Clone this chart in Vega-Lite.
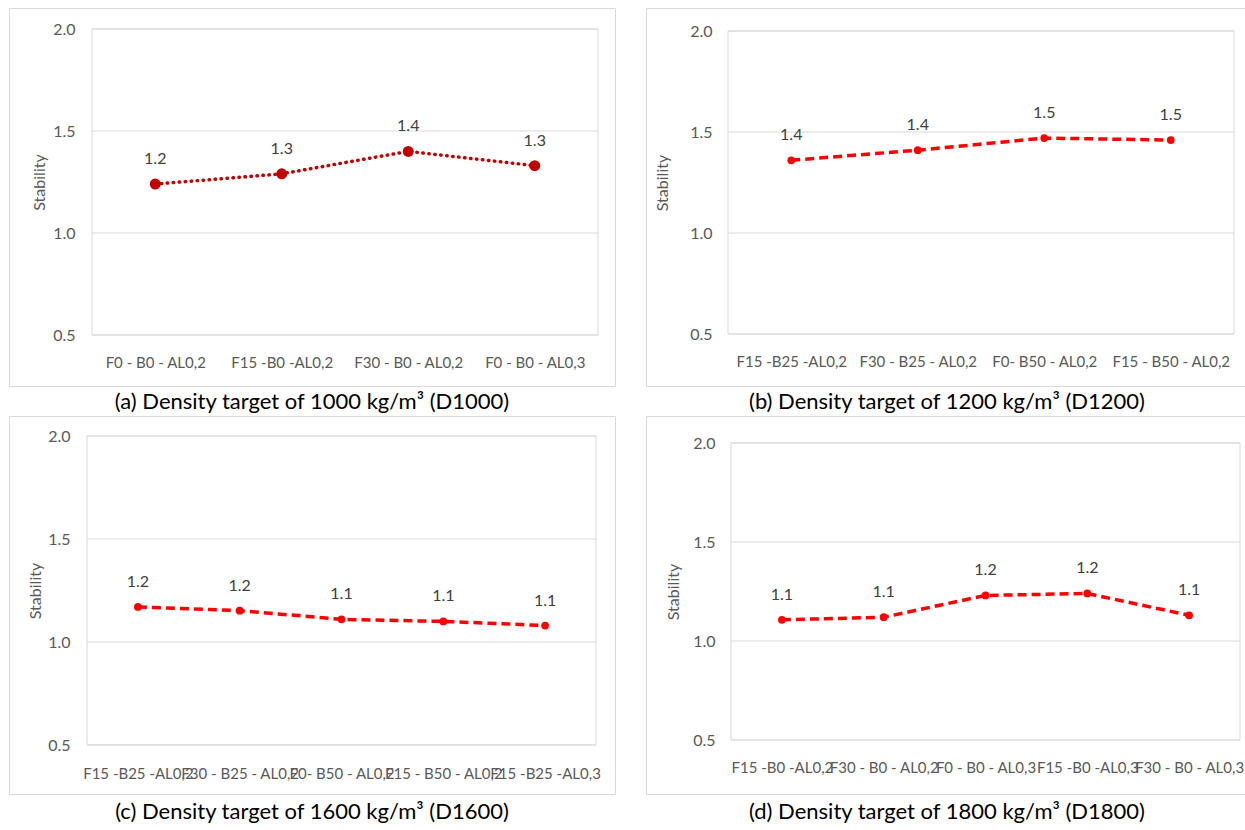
{
  "$schema": "https://vega.github.io/schema/vega-lite/v6.json",
  "background": "white",
  "padding": {"left": 8, "top": 7, "right": 0, "bottom": 0},
  "config": {
    "font": "Lato",
    "view": {"stroke": "#d9d9d9", "strokeWidth": 1},
    "title": {"font": "Lato"},
    "axis": {"labelFont": "Lato", "titleFont": "Lato"}
  },
  "datasets": {
    "grid": [{"g": 0.5}, {"g": 1.0}, {"g": 1.5}, {"g": 2.0}],
    "box": [{"lo": 0.5, "hi": 2.0}],
    "d1000": [
      {"Mix": "F0 - B0 - AL0,2", "Stability": 1.24},
      {"Mix": "F15 -B0 -AL0,2", "Stability": 1.29},
      {"Mix": "F30 - B0 - AL0,2", "Stability": 1.40},
      {"Mix": "F0 - B0 - AL0,3", "Stability": 1.33}
    ],
    "d1200": [
      {"Mix": "F15 -B25 -AL0,2", "Stability": 1.36},
      {"Mix": "F30 - B25 - AL0,2", "Stability": 1.41},
      {"Mix": "F0- B50 - AL0,2", "Stability": 1.47},
      {"Mix": "F15 - B50 - AL0,2", "Stability": 1.46}
    ],
    "d1600": [
      {"Mix": "F15 -B25 -AL0,2", "Stability": 1.17},
      {"Mix": "F30 - B25 - AL0,2", "Stability": 1.152},
      {"Mix": "F0- B50 - AL0,2", "Stability": 1.11},
      {"Mix": "F15 - B50 - AL0,2", "Stability": 1.10},
      {"Mix": "F15 -B25 -AL0,3", "Stability": 1.08}
    ],
    "d1800": [
      {"Mix": "F15 -B0 -AL0,2", "Stability": 1.107},
      {"Mix": "F30 - B0 - AL0,2", "Stability": 1.12},
      {"Mix": "F0 - B0 - AL0,3", "Stability": 1.23},
      {"Mix": "F15 -B0 -AL0,3", "Stability": 1.24},
      {"Mix": "F30 - B0 - AL0,3", "Stability": 1.13}
    ]
  },
  "spacing": {"row": 1, "column": 29},
  "columns": 2,
  "concat": [
    {
      "width": 606, "height": 378,
      "title": {"text": "(a) Density target of 1000 kg/m³ (D1000)", "orient": "bottom", "offset": 6, "fontSize": 22, "fontWeight": "normal", "color": "#000000", "anchor": "middle"},
      "resolve": {"scale": {"x": "independent"}},
      "layer": [
        {
          "data": {"name": "grid"},
          "mark": {"type": "rule", "color": "#d9d9d9", "strokeWidth": 1},
          "encoding": {
            "y": {"field": "g", "type": "quantitative", "scale": {"domain": [0.5, 2], "range": [327, 21]},
                  "axis": {"orient": "left", "offset": -83, "values": [0.5, 1, 1.5, 2], "format": ".1f", "domain": false, "ticks": false, "grid": false, "labelPadding": 17, "labelFontSize": 16, "labelColor": "#595959", "title": "Stability", "titleFontSize": 16, "titleFontWeight": "normal", "titleColor": "#595959", "titlePadding": 5}},
            "x": {"datum": 0, "type": "quantitative", "scale": {"domain": [0, 1], "range": [83, 589]}, "axis": null},
            "x2": {"datum": 1}
          }
        },
        {
          "data": {"name": "box"},
          "mark": {"type": "rect", "filled": false, "stroke": "#d9d9d9", "strokeWidth": 1},
          "encoding": {
            "y": {"field": "lo", "type": "quantitative", "scale": {"domain": [0.5, 2], "range": [327, 21]}},
            "y2": {"field": "hi"},
            "x": {"datum": 0, "type": "quantitative", "scale": {"domain": [0, 1], "range": [83, 589]}, "axis": null},
            "x2": {"datum": 1}
          }
        },
        {
          "data": {"name": "d1000"},
          "encoding": {
            "x": {"field": "Mix", "type": "nominal", "sort": null, "scale": {"type": "point", "range": [83, 589], "padding": 0.5},
                  "axis": {"orient": "bottom", "offset": -51, "domain": false, "ticks": false, "grid": false, "labelAngle": 0, "labelPadding": 20, "labelFontSize": 15, "labelColor": "#595959", "title": null}},
            "y": {"field": "Stability", "type": "quantitative", "scale": {"domain": [0.5, 2], "range": [327, 21]}}
          },
          "layer": [
            {"mark": {"type": "line", "color": "#C00000", "strokeWidth": 3.5, "strokeDash": [0.5, 5.5], "strokeCap": "round", "point": {"filled": true, "size": 120, "color": "#C00000"}}},
            {"mark": {"type": "text", "dy": -25, "fontSize": 16, "color": "#404040"},
             "encoding": {"text": {"field": "Stability", "type": "quantitative", "format": ".1f"}}}
          ]
        }
      ]
    },
    {
      "width": 602, "height": 378,
      "title": {"text": "(b) Density target of 1200 kg/m³ (D1200)", "orient": "bottom", "offset": 6, "fontSize": 22, "fontWeight": "normal", "color": "#000000", "anchor": "middle"},
      "resolve": {"scale": {"x": "independent"}},
      "layer": [
        {
          "data": {"name": "grid"},
          "mark": {"type": "rule", "color": "#d9d9d9", "strokeWidth": 1},
          "encoding": {
            "y": {"field": "g", "type": "quantitative", "scale": {"domain": [0.5, 2], "range": [326, 23]},
                  "axis": {"orient": "left", "offset": -82, "values": [0.5, 1, 1.5, 2], "format": ".1f", "domain": false, "ticks": false, "grid": false, "labelPadding": 16, "labelFontSize": 16, "labelColor": "#595959", "title": "Stability", "titleFontSize": 16, "titleFontWeight": "normal", "titleColor": "#595959", "titlePadding": 19}},
            "x": {"datum": 0, "type": "quantitative", "scale": {"domain": [0, 1], "range": [82, 588]}, "axis": null},
            "x2": {"datum": 1}
          }
        },
        {
          "data": {"name": "box"},
          "mark": {"type": "rect", "filled": false, "stroke": "#d9d9d9", "strokeWidth": 1},
          "encoding": {
            "y": {"field": "lo", "type": "quantitative", "scale": {"domain": [0.5, 2], "range": [326, 23]}},
            "y2": {"field": "hi"},
            "x": {"datum": 0, "type": "quantitative", "scale": {"domain": [0, 1], "range": [82, 588]}, "axis": null},
            "x2": {"datum": 1}
          }
        },
        {
          "data": {"name": "d1200"},
          "encoding": {
            "x": {"field": "Mix", "type": "nominal", "sort": null, "scale": {"type": "point", "range": [82, 588], "padding": 0.5},
                  "axis": {"orient": "bottom", "offset": -52, "domain": false, "ticks": false, "grid": false, "labelAngle": 0, "labelPadding": 20, "labelFontSize": 15, "labelColor": "#595959", "title": null}},
            "y": {"field": "Stability", "type": "quantitative", "scale": {"domain": [0.5, 2], "range": [326, 23]}}
          },
          "layer": [
            {"mark": {"type": "line", "color": "#FF0000", "strokeWidth": 3.5, "strokeDash": [9, 5], "point": {"filled": true, "size": 60, "color": "#FF0000"}}},
            {"mark": {"type": "text", "dy": -25, "fontSize": 16, "color": "#404040"},
             "encoding": {"text": {"field": "Stability", "type": "quantitative", "format": ".1f"}}}
          ]
        }
      ]
    },
    {
      "width": 606, "height": 378,
      "title": {"text": "(c) Density target of 1600 kg/m³ (D1600)", "orient": "bottom", "offset": 8, "fontSize": 22, "fontWeight": "normal", "color": "#000000", "anchor": "middle"},
      "resolve": {"scale": {"x": "independent"}},
      "layer": [
        {
          "data": {"name": "grid"},
          "mark": {"type": "rule", "color": "#d9d9d9", "strokeWidth": 1},
          "encoding": {
            "y": {"field": "g", "type": "quantitative", "scale": {"domain": [0.5, 2], "range": [329, 20]},
                  "axis": {"orient": "left", "offset": -78, "values": [0.5, 1, 1.5, 2], "format": ".1f", "domain": false, "ticks": false, "grid": false, "labelPadding": 17, "labelFontSize": 16, "labelColor": "#595959", "title": "Stability", "titleFontSize": 16, "titleFontWeight": "normal", "titleColor": "#595959", "titlePadding": 4}},
            "x": {"datum": 0, "type": "quantitative", "scale": {"domain": [0, 1], "range": [78, 587]}, "axis": null},
            "x2": {"datum": 1}
          }
        },
        {
          "data": {"name": "box"},
          "mark": {"type": "rect", "filled": false, "stroke": "#d9d9d9", "strokeWidth": 1},
          "encoding": {
            "y": {"field": "lo", "type": "quantitative", "scale": {"domain": [0.5, 2], "range": [329, 20]}},
            "y2": {"field": "hi"},
            "x": {"datum": 0, "type": "quantitative", "scale": {"domain": [0, 1], "range": [78, 587]}, "axis": null},
            "x2": {"datum": 1}
          }
        },
        {
          "data": {"name": "d1600"},
          "encoding": {
            "x": {"field": "Mix", "type": "nominal", "sort": null, "scale": {"type": "point", "range": [78, 587], "padding": 0.5},
                  "axis": {"orient": "bottom", "offset": -49, "domain": false, "ticks": false, "grid": false, "labelAngle": 0, "labelPadding": 21, "labelFontSize": 15, "labelColor": "#595959", "title": null}},
            "y": {"field": "Stability", "type": "quantitative", "scale": {"domain": [0.5, 2], "range": [329, 20]}}
          },
          "layer": [
            {"mark": {"type": "line", "color": "#FF0000", "strokeWidth": 3.5, "strokeDash": [9, 5], "point": {"filled": true, "size": 60, "color": "#FF0000"}}},
            {"mark": {"type": "text", "dy": -25, "fontSize": 16, "color": "#404040"},
             "encoding": {"text": {"field": "Stability", "type": "quantitative", "format": ".1f"}}}
          ]
        }
      ]
    },
    {
      "width": 602, "height": 378,
      "title": {"text": "(d) Density target of 1800 kg/m³ (D1800)", "orient": "bottom", "offset": 8, "fontSize": 22, "fontWeight": "normal", "color": "#000000", "anchor": "middle"},
      "resolve": {"scale": {"x": "independent"}},
      "layer": [
        {
          "data": {"name": "grid"},
          "mark": {"type": "rule", "color": "#d9d9d9", "strokeWidth": 1},
          "encoding": {
            "y": {"field": "g", "type": "quantitative", "scale": {"domain": [0.5, 2], "range": [324, 27]},
                  "axis": {"orient": "left", "offset": -85, "values": [0.5, 1, 1.5, 2], "format": ".1f", "domain": false, "ticks": false, "grid": false, "labelPadding": 16, "labelFontSize": 16, "labelColor": "#595959", "title": "Stability", "titleFontSize": 16, "titleFontWeight": "normal", "titleColor": "#595959", "titlePadding": 11}},
            "x": {"datum": 0, "type": "quantitative", "scale": {"domain": [0, 1], "range": [85, 594]}, "axis": null},
            "x2": {"datum": 1}
          }
        },
        {
          "data": {"name": "box"},
          "mark": {"type": "rect", "filled": false, "stroke": "#d9d9d9", "strokeWidth": 1},
          "encoding": {
            "y": {"field": "lo", "type": "quantitative", "scale": {"domain": [0.5, 2], "range": [324, 27]}},
            "y2": {"field": "hi"},
            "x": {"datum": 0, "type": "quantitative", "scale": {"domain": [0, 1], "range": [85, 594]}, "axis": null},
            "x2": {"datum": 1}
          }
        },
        {
          "data": {"name": "d1800"},
          "encoding": {
            "x": {"field": "Mix", "type": "nominal", "sort": null, "scale": {"type": "point", "range": [85, 594], "padding": 0.5},
                  "axis": {"orient": "bottom", "offset": -54, "domain": false, "ticks": false, "grid": false, "labelAngle": 0, "labelPadding": 20, "labelFontSize": 15, "labelColor": "#595959", "title": null}},
            "y": {"field": "Stability", "type": "quantitative", "scale": {"domain": [0.5, 2], "range": [324, 27]}}
          },
          "layer": [
            {"mark": {"type": "line", "color": "#FF0000", "strokeWidth": 3.5, "strokeDash": [9, 5], "point": {"filled": true, "size": 60, "color": "#FF0000"}}},
            {"mark": {"type": "text", "dy": -25, "fontSize": 16, "color": "#404040"},
             "encoding": {"text": {"field": "Stability", "type": "quantitative", "format": ".1f"}}}
          ]
        }
      ]
    }
  ]
}
